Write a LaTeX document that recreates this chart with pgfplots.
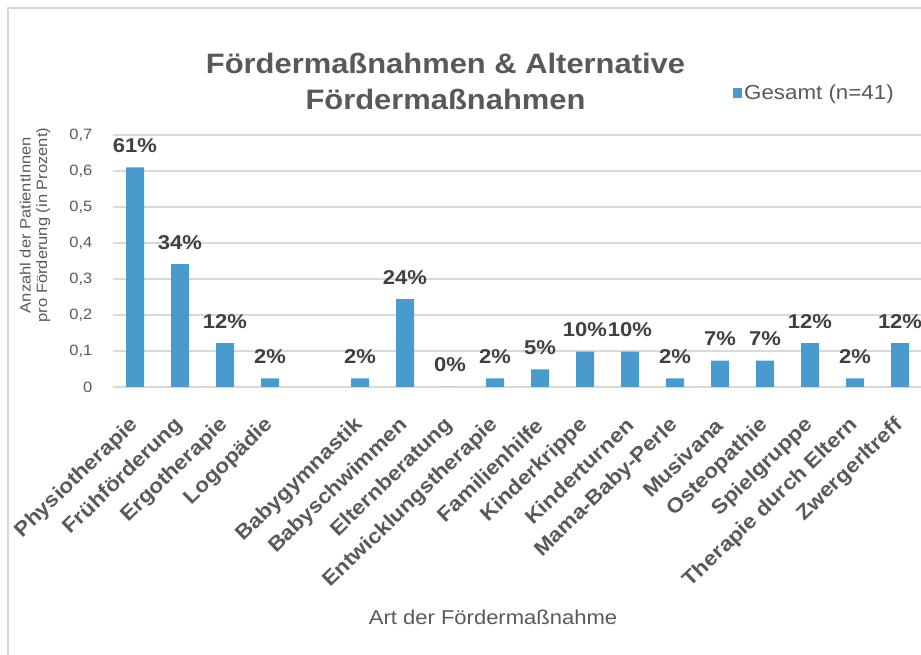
\documentclass[border=0pt]{standalone}
\usepackage{pgfplots}
\pgfplotsset{compat=1.18}
\usepackage{pgfplotstable}
\usepackage{fontspec}
\setmainfont{Liberation Sans}[FakeStretch=1.1]
\definecolor{barblue}{RGB}{74,155,205}
\definecolor{txtgray}{RGB}{89,89,89}
\definecolor{lblgray}{RGB}{64,64,64}
\definecolor{gridgray}{RGB}{217,217,217}
\pgfplotstableread{
x y lab
0 0.610 61
1 0.341 34
2 0.122 12
3 0.024 2
5 0.024 2
6 0.244 24
7 0.000 0
8 0.024 2
9 0.049 5
10 0.098 10
11 0.098 10
12 0.024 2
13 0.073 7
14 0.073 7
15 0.122 12
16 0.024 2
17 0.122 12
}\datatable
\begin{document}
\begin{tikzpicture}[x=1bp,y=1bp]
\path[use as bounding box] (0,0) rectangle (921,655);
\clip (0,0) rectangle (921,655);
\draw[gridgray, line width=1.2bp] (8,-5) -- (8,647) -- (930,647);
\begin{axis}[
  at={(112.5bp,268bp)}, anchor=south west,
  scale only axis, width=810bp, height=252bp,
  xmin=-0.5, xmax=17.5, ymin=0, ymax=0.7,
  ybar, bar width=18bp,
  axis line style={draw=none},
  major tick length=0pt,
  ymajorgrids, grid style={gridgray, line width=1.2bp},
  ytick={0,0.1,0.2,0.3,0.4,0.5,0.6,0.7},
  yticklabels={0,{0,1},{0,2},{0,3},{0,4},{0,5},{0,6},{0,7}},
  yticklabel style={font=\fontsize{15bp}{18bp}\selectfont, text=txtgray, anchor=east, inner sep=0pt},
  yticklabel shift=20bp,
  xtick={0,1,2,3,5,6,7,8,9,10,11,12,13,14,15,16,17},
  xticklabels={Physiotherapie,Frühförderung,Ergotherapie,Logopädie,Babygymnastik,Babyschwimmen,Elternberatung,Entwicklungstherapie,Familienhilfe,Kinderkrippe,Kinderturnen,Mama-Baby-Perle,Musivana,Osteopathie,Spielgruppe,Therapie durch Eltern,Zwergerltreff},
  xticklabel style={font=\bfseries\fontsize{20.5bp}{23bp}\selectfont, text=txtgray, rotate=44, anchor=east, inner sep=0pt},
  xticklabel shift=35bp,
  legend style={at={(0.766,1.1667)}, anchor=west, draw=none, fill=none,
    font=\fontsize{20.3bp}{23bp}\selectfont, text=txtgray, inner sep=0pt},
  legend cell align=left,
  nodes near coords={\pgfplotspointmeta\%},
  point meta=explicit symbolic,
  nodes near coords style={font=\bfseries\fontsize{20bp}{22bp}\selectfont, text=lblgray, anchor=base, inner sep=0pt, yshift=15bp},
]
\addplot[fill=barblue, draw=none,
  legend image code/.code={\fill[barblue] (0bp,-5bp) rectangle (9bp,5bp);}]
  table[x=x, y=y, meta=lab] {\datatable};
\addlegendentry{Gesamt (n=41)}
\end{axis}
\node[anchor=base, text=txtgray, font=\bfseries\fontsize{28.1bp}{33bp}\selectfont] at (445.5,581) {Fördermaßnahmen \& Alternative};
\node[anchor=base, text=txtgray, font=\bfseries\fontsize{28.1bp}{33bp}\selectfont] at (445.5,545) {Fördermaßnahmen};
\node[anchor=base, text=txtgray, font=\fontsize{20bp}{24bp}\selectfont] at (493,30) {Art der Fördermaßnahme};
\node[rotate=90, align=center, text=txtgray, font=\fontsize{15bp}{16.5bp}\selectfont] at (35,430) {Anzahl der PatientInnen\\pro Förderung (in Prozent)};
\end{tikzpicture}
\end{document}
